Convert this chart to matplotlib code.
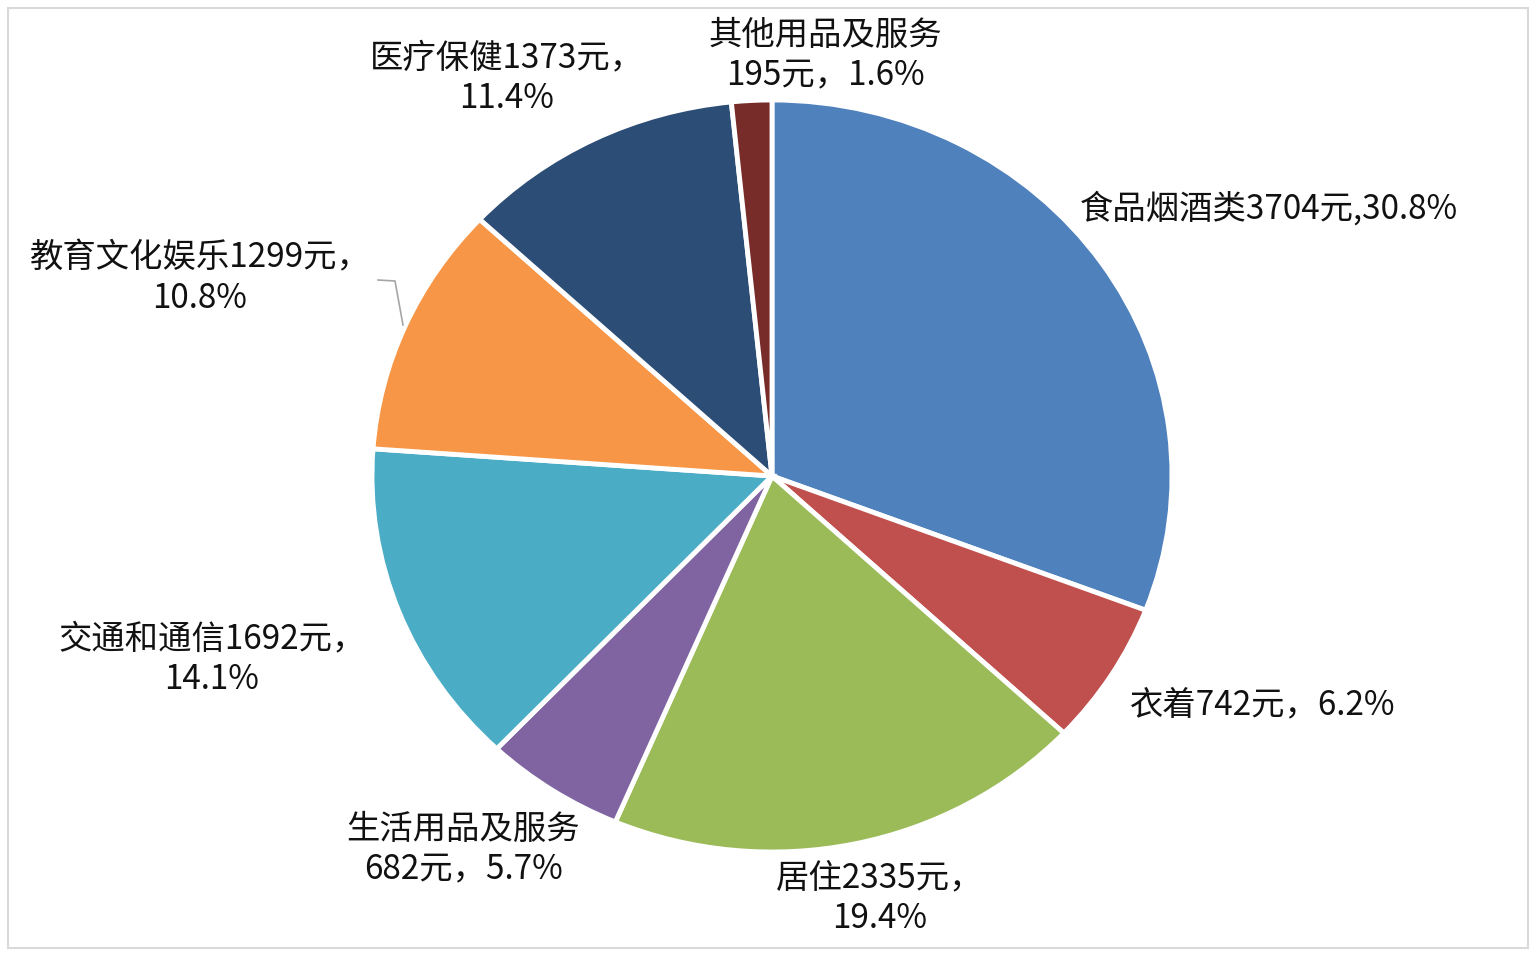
import matplotlib
matplotlib.use("Agg")
from matplotlib import pyplot as plt
from matplotlib.patches import Rectangle

plt.rcParams["font.family"] = ["Noto Sans CJK SC", "DejaVu Sans"]

categories = ["食品烟酒类", "衣着", "居住", "生活用品及服务", "交通和通信", "教育文化娱乐", "医疗保健", "其他用品及服务"]
amounts = [3704, 742, 2335, 682, 1692, 1299, 1373, 195]
shares = [30.8, 6.2, 19.4, 5.7, 14.1, 10.8, 11.4, 1.6]
colors = ["#4F81BD", "#C0504D", "#9BBB59", "#8064A2", "#4BACC6", "#F79646", "#2C4D75", "#772C2A"]

# label text templates and pixel anchors (centre of label block), ha
label_fmt = [
    "{c}{a}元,{s}%",
    "{c}{a}元，{s}%",
    "{c}{a}元，\n{s}%",
    "{c}\n{a}元，{s}%",
    "{c}{a}元，\n{s}%",
    "{c}{a}元，\n{s}%",
    "{c}{a}元，\n{s}%",
    "{c}\n{a}元，{s}%",
]
label_px = [(1080, 209, "left"), (1130, 705, "left"), (880, 898, "center"), (463, 850, "center"),
            (212, 659, "center"), (200, 278, "center"), (507, 78, "center"), (825, 56, "center")]

W, H = 1530, 955
CX, CY, RX, RY = 772, 476, 400, 376


def to_data(px, py):
    return (px - CX) / RX, (CY - py) / RY


fig = plt.figure(figsize=(W / 100, H / 100), dpi=100)
ax = fig.add_axes([0, 0, 1, 1])

ax.pie(amounts, colors=colors, startangle=90, counterclock=False,
       wedgeprops=dict(edgecolor="white", linewidth=3.5))
ax.set_aspect("auto")
ax.set_xlim(-CX / RX, (W - CX) / RX)
ax.set_ylim(-(H - CY) / RY, CY / RY)
ax.axis("off")

for cat, amt, sh, fmt, (px, py, ha) in zip(categories, amounts, shares, label_fmt, label_px):
    x, y = to_data(px, py)
    ax.text(x, y, fmt.format(c=cat, a=amt, s=sh), ha=ha, va="center",
            fontsize=24, color="#111111", linespacing=1.2)

# leader line for 教育文化娱乐
pts = [to_data(378, 280), to_data(395, 281), to_data(403, 325)]
ax.plot([p[0] for p in pts], [p[1] for p in pts], color="#A6A6A6", lw=1.2)

fig.patches.append(Rectangle((8 / W, 1 - 948 / H), 1520 / W, 940 / H, transform=fig.transFigure,
                             fill=False, edgecolor="#D9D9D9", linewidth=1.5))

fig.savefig("out.png", dpi=100)
